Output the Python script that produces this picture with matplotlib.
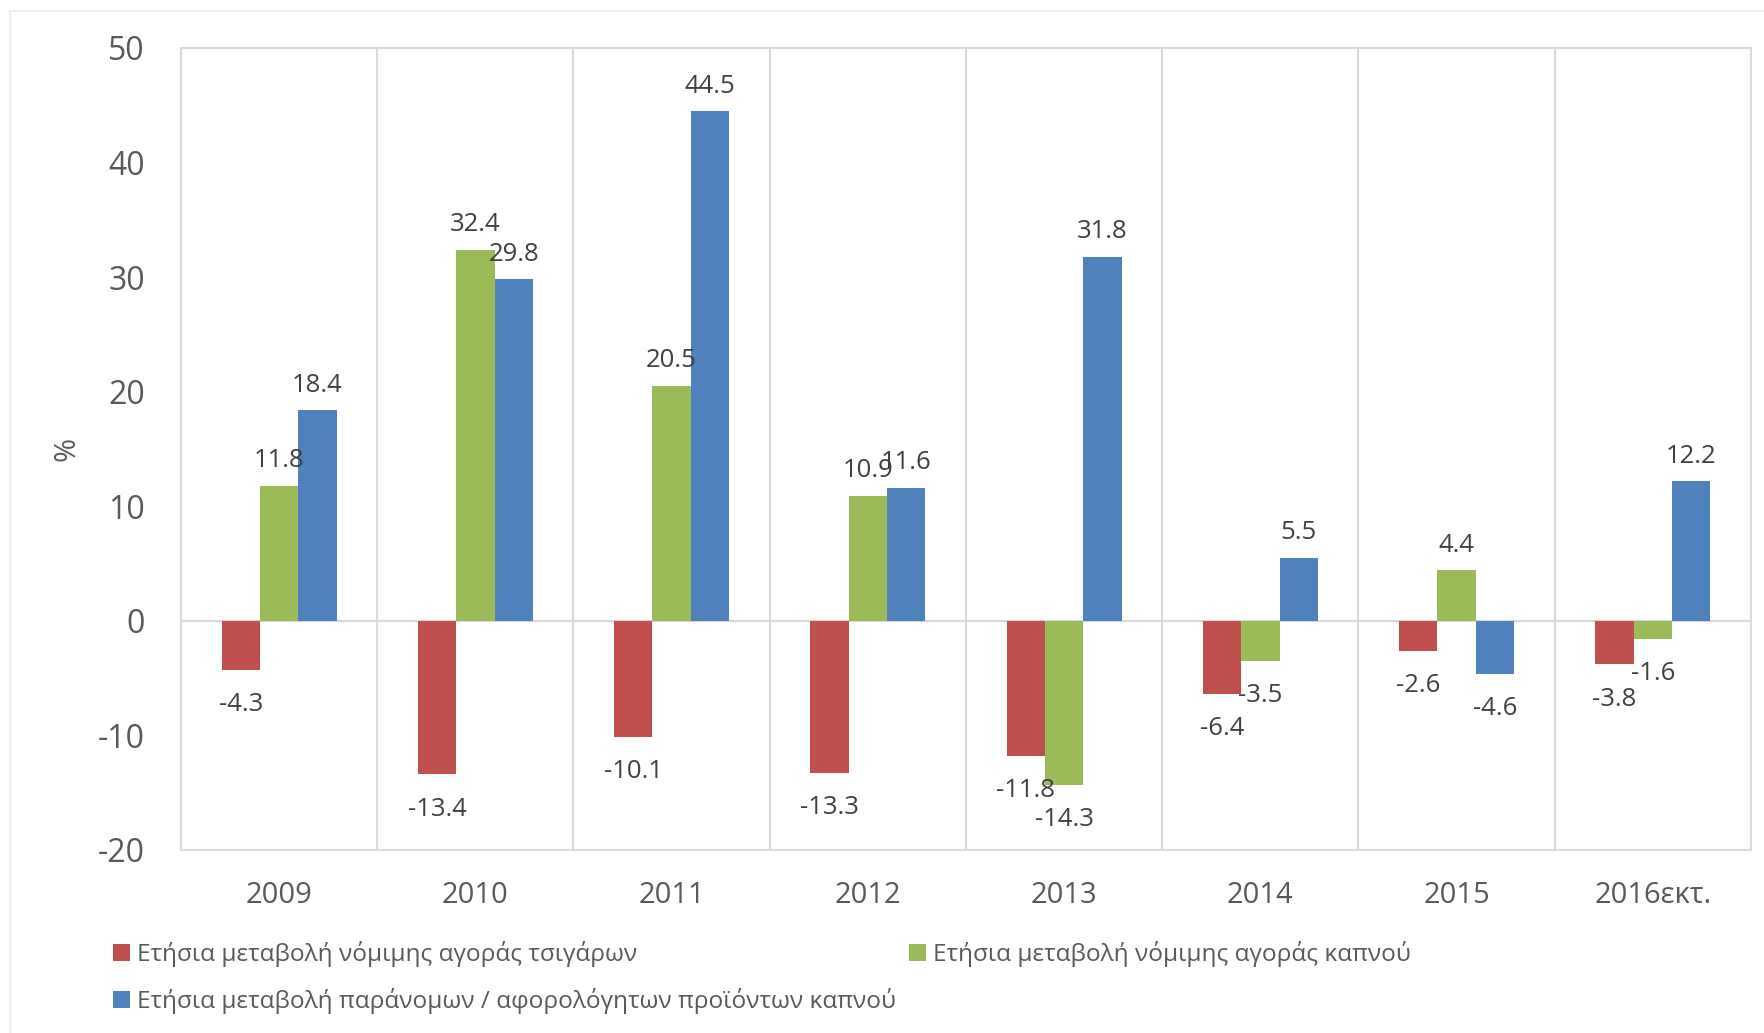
import matplotlib.pyplot as plt
from matplotlib.patches import Patch, Rectangle
import numpy as np
from typing import Tuple

years = ["2009", "2010", "2011", "2012", "2013", "2014", "2015", "2016εκτ."]
cigarettes = [-4.3, -13.4, -10.1, -13.3, -11.8, -6.4, -2.6, -3.8]
tobacco = [11.8, 32.4, 20.5, 10.9, -14.3, -3.5, 4.4, -1.6]
illicit = [18.4, 29.8, 44.5, 11.6, 31.8, 5.5, -4.6, 12.2]

series_names = [
    "Ετήσια μεταβολή νόμιμης αγοράς τσιγάρων",
    "Ετήσια μεταβολή νόμιμης αγοράς καπνού",
    "Ετήσια μεταβολή παράνομων / αφορολόγητων προϊόντων καπνού",
]
colors = ["#C0504D", "#9BBB59", "#4F81BD"]
y_ticks = [-20, -10, 0, 10, 20, 30, 40, 50]

GRID = "#D9D9D9"
TICK_TXT = "#595959"
LABEL_TXT = "#404040"
W, H, DPI = 1765, 1033, 100

plt.rcParams["font.family"] = ["Open Sans", "DejaVu Sans"]


def make_figure() -> Tuple[plt.Figure, plt.Axes]:
    fig = plt.figure(figsize=(W / DPI, H / DPI), dpi=DPI)
    ax = fig.add_axes([181 / W, 1 - 850 / H, 1570 / W, 802 / H])
    # faint chart-area border, running off the right/bottom of the image
    fig.add_artist(Rectangle((10 / W, -0.05), 1.1, 1 - 11 / H + 0.05,
                             transform=fig.transFigure, fill=False,
                             edgecolor="#EEEEEE", lw=1.5))
    return fig, ax


def setup_axes(ax: plt.Axes) -> None:
    x = np.arange(len(years))
    ax.set_xlim(-0.5, len(years) - 0.5)
    ax.set_ylim(-20, 50)
    ax.set_yticks(y_ticks)
    ax.set_yticklabels([str(t) for t in y_ticks])
    ax.set_xticks(x)
    ax.set_xticklabels(years)
    ax.set_xticks(x[:-1] + 0.5, minor=True)
    ax.tick_params(axis="y", which="major", length=0, pad=26,
                   labelsize=23, labelcolor=TICK_TXT)
    ax.tick_params(axis="x", which="major", length=0, pad=22,
                   labelsize=21, labelcolor=TICK_TXT)
    ax.tick_params(axis="x", which="minor", length=0)
    ax.grid(axis="x", which="minor", color=GRID, lw=1.5)
    ax.set_axisbelow(True)
    for sp in ax.spines.values():
        sp.set_color(GRID)
        sp.set_linewidth(1.5)
    ax.axhline(0, color=GRID, lw=1.5, zorder=1)

    ax.set_ylabel("%", fontsize=21, color=TICK_TXT)
    ax.yaxis.set_label_coords(-0.0726, 0.5)
    ax.yaxis.label.set_va("center")


def add_bars(ax: plt.Axes) -> None:
    x = np.arange(len(years))
    w = 0.195
    for k, (vals, c) in enumerate(zip([cigarettes, tobacco, illicit], colors)):
        pos = x + (k - 1) * w
        ax.bar(pos, vals, width=w, color=c, zorder=2)
        for px, v in zip(pos, vals):
            off = 18 if v >= 0 else -25
            ax.annotate(f"{v:.1f}", (px, v), xytext=(0, off),
                        textcoords="offset points", ha="center", va="center",
                        fontsize=18.5, color=LABEL_TXT, zorder=3)


def add_legend(fig: plt.Figure) -> None:
    handles = [Patch(facecolor=c, edgecolor="none") for c in colors]
    # column-major fill: red, blue in col 1; green in col 2
    order = [0, 2, 1]
    fig.legend([handles[i] for i in order], [series_names[i] for i in order],
               ncol=2, loc="upper left",
               bbox_to_anchor=(113 / W, 1 - 941 / H),
               frameon=False, fontsize=17.6, labelcolor=TICK_TXT,
               handlelength=0.7, handleheight=0.7, handletextpad=0.3,
               columnspacing=0.5, labelspacing=0.85,
               borderpad=0, borderaxespad=0)


def entry_point() -> None:
    fig, ax = make_figure()
    setup_axes(ax)
    add_bars(ax)
    add_legend(fig)
    fig.savefig("out.png", dpi=DPI)


if __name__ == "__main__":
    entry_point()
